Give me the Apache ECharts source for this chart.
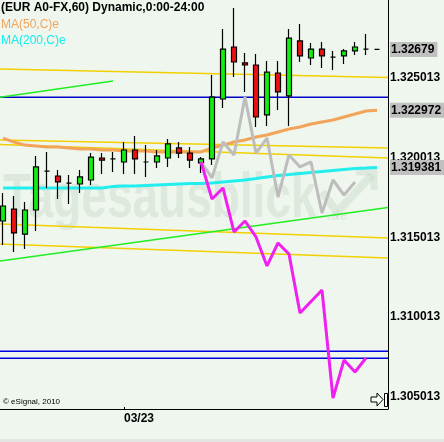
<!DOCTYPE html>
<html><head><meta charset="utf-8">
<script src="https://cdn.jsdelivr.net/npm/echarts@6/dist/echarts.min.js"></script>
<style>html,body{margin:0;padding:0;background:#eef6ee;}#c{width:444px;height:442px;}</style>
</head><body><div id="c"></div>
<script>
// ---- data (hourly bars, index 0..34) ----
const titleText = '(EUR A0-FX,60) Dynamic,0:00-24:00';
const xTickIndex = [11];
const xTickLabels = ['03/23'];
const open  = [1.31603,1.31678,1.31521,1.31672,1.31916,1.31885,1.31841,1.31835,1.31860,1.31998,1.31992,1.31973,1.32048,1.31973,1.31973,1.31998,1.32061,1.32029,1.31967,1.31992,1.32368,1.32694,1.32594,1.32581,1.32268,1.32531,1.32387,1.32732,1.32625,1.32681,1.32631,1.32638,1.32669,1.32681,1.32679];
const close = [1.31697,1.31528,1.31672,1.31942,1.31916,1.31848,1.31841,1.31879,1.32004,1.31985,1.31992,1.32048,1.31992,1.31973,1.32011,1.32086,1.32029,1.31985,1.31992,1.32380,1.32681,1.32600,1.32581,1.32255,1.32537,1.32412,1.32750,1.32638,1.32681,1.32638,1.32631,1.32669,1.32694,1.32681,1.32679];
const low   = [1.31452,1.31409,1.31427,1.31540,1.31810,1.31741,1.31710,1.31779,1.31829,1.31898,1.31910,1.31898,1.31898,1.31879,1.31935,1.31942,1.31998,1.31935,1.31904,1.31954,1.32311,1.32506,1.32412,1.32192,1.32199,1.32299,1.32199,1.32600,1.32581,1.32562,1.32550,1.32587,1.32644,1.32644,1.32679];
const high  = [1.31779,1.31760,1.31722,1.32011,1.32036,1.31923,1.31891,1.31923,1.32029,1.32029,1.32036,1.32098,1.32136,1.32079,1.32048,1.32117,1.32098,1.32067,1.32004,1.32518,1.32807,1.32938,1.32656,1.32650,1.32606,1.32606,1.32807,1.32838,1.32719,1.32725,1.32669,1.32681,1.32725,1.32775,1.32679];
const ma50  = [1.32123,1.32098,1.32079,1.32073,1.32067,1.32067,1.32061,1.32054,1.32054,1.32048,1.32048,1.32042,1.32042,1.32042,1.32036,1.32036,1.32036,1.32036,1.32036,1.32061,1.32079,1.32098,1.32111,1.32130,1.32142,1.32161,1.32180,1.32192,1.32211,1.32224,1.32236,1.32255,1.32274,1.32293,1.322972];
const ma200 = [1.31810,1.31810,1.31810,1.31810,1.31810,1.31810,1.31810,1.31810,1.31810,1.31810,1.31819,1.31822,1.31822,1.31826,1.31829,1.31832,1.31835,1.31838,1.31838,1.31841,1.31848,1.31854,1.31860,1.31869,1.31879,1.31888,1.31894,1.31901,1.31907,1.31913,1.31920,1.31926,1.31932,1.31935,1.319381];
const projStart = 18;
const projMagenta = [1.31973,1.31741,1.31810,1.31534,1.31603,1.31503,1.31321,1.31465,1.31396,1.31026,1.31098,1.31170,1.30493,1.30731,1.30656,1.30744];
const projGray    = [1.31973,1.31873,1.32098,1.32017,1.32380,1.32029,1.32123,1.31753,1.32017,1.31942,1.31973,1.31653,1.31860,1.31766,1.31848];
const yTickValues = [1.305013,1.310013,1.315013,1.320013,1.325013];
const lastPrice = 1.32679, ma50Last = 1.322972, ma200Last = 1.319381;
const highlightValues = [ma200Last, ma50Last, lastPrice];
const navyLevel = 1.32379;
const blueLevels = [1.30786, 1.30742];
const yellowLevels = [[1.32556,1.32503],[1.32111,1.32061],[1.32083,1.31998],[1.31584,1.31496],[1.31459,1.31371]];
const greenTrends = [[-0.27,1.32379,10,1.32481],[-0.27,1.31352,35,1.31688]];

const xMin = -3/11, xMax = 35;
const yMin = 1.304242, yMax = 1.329886;
const FONT = '"Liberation Sans", Arial, sans-serif';

const series = [];
yellowLevels.forEach(l => series.push({type:'line', silent:true, symbol:'none', z:1,
  data:[[xMin,l[0]],[xMax,l[1]]], lineStyle:{color:'#f2d000', width:1.5}}));
series.push({type:'line', silent:true, symbol:'none', z:1,
  data:[[xMin,navyLevel],[xMax,navyLevel]], lineStyle:{color:'#0000c8', width:1.5}});
blueLevels.forEach(v => series.push({type:'line', silent:true, symbol:'none', z:1,
  data:[[xMin,v],[xMax,v]], lineStyle:{color:'#0000e0', width:1.5}}));
greenTrends.forEach(g => series.push({type:'line', silent:true, symbol:'none', z:1,
  data:[[g[0],g[1]],[g[2],g[3]]], lineStyle:{color:'#22ee22', width:1.5}}));
series.push({type:'line', silent:true, symbol:'none', z:2,
  data: ma50.map((v,i)=>[i,v]), lineStyle:{color:'#f2a55a', width:3}});
series.push({type:'line', silent:true, symbol:'none', z:2,
  data: ma200.map((v,i)=>[i,v]), lineStyle:{color:'#22eeee', width:3}});
series.push({type:'candlestick', z:3, barWidth:6,
  encode:{x:0, y:[1,2,3,4]},
  data: open.map((o,i)=>[i,o,close[i],low[i],high[i]]),
  itemStyle:{color:'#11ee11', color0:'#ee1111', borderColor:'#000', borderColor0:'#000', borderColorDoji:'#000', borderWidth:1.2}});
series.push({type:'line', silent:true, symbol:'none', z:4,
  data: projGray.map((v,i)=>[projStart+i,v]), lineStyle:{color:'#bdbdbd', width:3}});
series.push({type:'line', silent:true, symbol:'none', z:5,
  data: projMagenta.map((v,i)=>[projStart+i,v]), lineStyle:{color:'#f020f0', width:3}});

const wm = 'rgba(180,200,180,0.28)';
const labelBase = {margin:2, color:'#000', fontWeight:'bold', fontSize:12, fontFamily:FONT};
const option = {
  backgroundColor:'#eef6ee',
  animation:false,
  grid:{left:0, right:56, top:0, bottom:33, containLabel:false, outerBoundsMode:'none'},
  xAxis:{type:'value', min:xMin, max:xMax,
    axisLine:{show:true, onZero:false, lineStyle:{color:'#000', width:1}},
    splitLine:{show:false},
    axisTick:{show:true, inside:true, length:2, customValues:xTickIndex, lineStyle:{color:'#000'}},
    axisLabel:{customValues:xTickIndex, formatter:v=>xTickLabels[xTickIndex.indexOf(Math.round(v))]||'',
      align:'left', margin:4, color:'#000', fontWeight:'bold', fontSize:12, fontFamily:FONT}},
  yAxis:[
    {type:'value', position:'right', min:yMin, max:yMax, z:1,
      axisLine:{show:true, onZero:false, lineStyle:{color:'#000', width:1}},
      splitLine:{show:false}, axisTick:{show:false},
      axisLabel:Object.assign({customValues:yTickValues, formatter:v=>v.toFixed(6)}, labelBase)},
    {type:'value', position:'right', min:yMin, max:yMax, z:6,
      axisLine:{show:false, onZero:false}, splitLine:{show:false}, axisTick:{show:false},
      axisLabel:Object.assign({customValues:highlightValues, formatter:v=>String(v),
        backgroundColor:'#c0c0c0', padding:[2,3,1,1]}, labelBase)}
  ],
  graphic:[
    {type:'text', x:3, y:200, scaleX:0.73, z:0, silent:true,
      style:{text:'Tagesausblick', font:'bold 63px '+FONT, fill:wm, verticalAlign:'middle'}},
    {type:'text', x:327, y:216, z:0, silent:true,
      style:{text:'.de', font:'bold 14px '+FONT, fill:wm, verticalAlign:'middle'}},
    {type:'polyline', z:0, silent:true, shape:{points:[[322,192],[337,212],[372,175]]},
      style:{stroke:wm, lineWidth:8, fill:null}},
    {type:'polyline', z:0, silent:true, shape:{points:[[356,172],[374,172],[374,190]]},
      style:{stroke:wm, lineWidth:7, fill:null}},
    {type:'text', x:1, y:8, z:20, style:{text:titleText, font:'bold 12px '+FONT, fill:'#000', verticalAlign:'middle'}},
    {type:'text', x:1, y:25, z:20, style:{text:'MA(50,C)e', font:'12px '+FONT, fill:'#f2a55a', verticalAlign:'middle'}},
    {type:'text', x:1, y:41, z:20, style:{text:'MA(200,C)e', font:'12px '+FONT, fill:'#11eeee', verticalAlign:'middle'}},
    {type:'text', x:3, y:402, z:20, style:{text:'\u00a9 eSignal, 2010', font:'8px '+FONT, fill:'#000', verticalAlign:'middle'}},
    {type:'polygon', z:20, shape:{points:[[371,397],[377,397],[377,393],[383,399.5],[377,406],[377,402],[371,402]]},
      style:{fill:'#f8fff8', stroke:'#000', lineWidth:1}},
    {type:'rect', z:20, shape:{x:384.5, y:393.5, width:3, height:13}, style:{fill:'#f8fff8', stroke:'#000', lineWidth:1}},
    {type:'rect', z:0, shape:{x:0, y:439, width:444, height:3}, style:{fill:'#e2e6e0'}}
  ],
  series
};
const chart = echarts.init(document.getElementById('c'), null, {renderer:'canvas'});
chart.setOption(option);
</script></body></html>
